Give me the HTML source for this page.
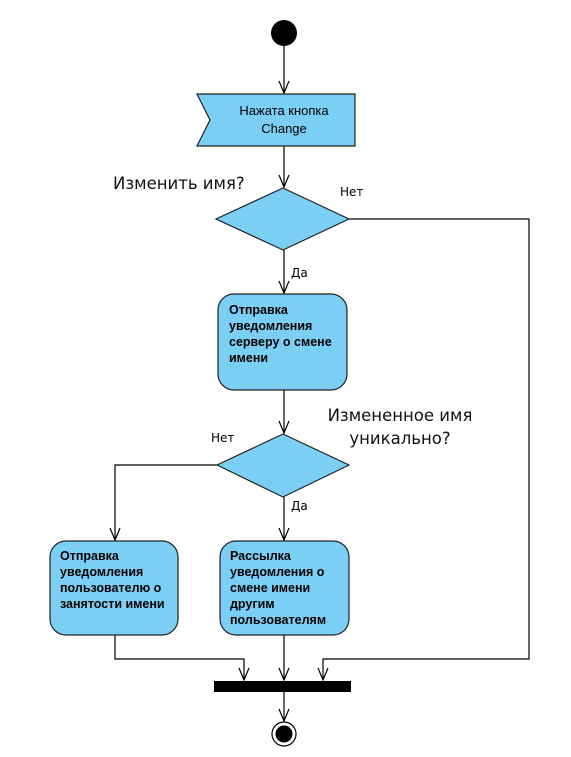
<!DOCTYPE html>
<html><head><meta charset="utf-8"><style>
html,body{margin:0;padding:0;background:#fff;}
svg{display:block;}
.b{font-family:"Liberation Sans",sans-serif;font-weight:bold;font-size:12.5px;fill:#000;}
.n{font-family:"DejaVu Sans","Liberation Sans",sans-serif;font-size:12px;fill:#000;}
.q{font-family:"DejaVu Sans","Liberation Sans",sans-serif;font-size:16.5px;fill:#111;}
</style></head><body>
<svg width="571" height="757" viewBox="0 0 571 757" xmlns="http://www.w3.org/2000/svg">
<defs><marker id="a" markerWidth="14" markerHeight="12" refX="13" refY="6" orient="auto" markerUnits="userSpaceOnUse" viewBox="0 0 14 12">
<path d="M1,1 L13,6 L1,11" fill="none" stroke="#000" stroke-width="1.2"/></marker></defs>
<g stroke="#000" stroke-width="1.2" fill="none">
<line x1="284" y1="45" x2="284" y2="93" marker-end="url(#a)"/>
<line x1="284" y1="146" x2="284" y2="187" marker-end="url(#a)"/>
<line x1="284" y1="250" x2="284" y2="293" marker-end="url(#a)"/>
<polyline points="349,219 529,219 529,659 323,659 323,680" marker-end="url(#a)"/>
<line x1="284" y1="390" x2="284" y2="433" marker-end="url(#a)"/>
<polyline points="218,465 115,465 115,540" marker-end="url(#a)"/>
<line x1="284" y1="497" x2="284" y2="540" marker-end="url(#a)"/>
<polyline points="115,635 115,659 244,659 244,680" marker-end="url(#a)"/>
<line x1="284" y1="635" x2="284" y2="680" marker-end="url(#a)"/>
<line x1="284" y1="692" x2="284" y2="721" marker-end="url(#a)"/>
</g>
<circle cx="284" cy="33" r="13" fill="#000"/>
<polygon points="197,94 355,94 355,146 197,146 210,120" fill="#7ccff4" stroke="#222" stroke-width="1.2"/>
<text x="284" y="115" text-anchor="middle" font-family="Liberation Sans,sans-serif" font-size="13">Нажата кнопка</text>
<text x="284" y="133" text-anchor="middle" font-family="Liberation Sans,sans-serif" font-size="13">Change</text>
<polygon points="283,188 349,219 283,250 216,219" fill="#7ccff4" stroke="#222" stroke-width="1.2"/>
<text class="q" x="113" y="189">Изменить имя?</text>
<text class="n" x="340" y="196">Нет</text>
<text class="n" x="291" y="277">Да</text>
<rect x="218" y="294" width="129" height="96" rx="16" fill="#7ccff4" stroke="#222" stroke-width="1.2"/>
<text class="b"><tspan x="229" y="314">Отправка</tspan><tspan x="229" y="330">уведомления</tspan><tspan x="229" y="346">серверу о смене</tspan><tspan x="229" y="362">имени</tspan></text>
<polygon points="283,434 349,465 283,497 217,465" fill="#7ccff4" stroke="#222" stroke-width="1.2"/>
<text class="q" x="400" y="421" text-anchor="middle">Измененное имя</text>
<text class="q" x="400" y="444" text-anchor="middle">уникально?</text>
<text class="n" x="211" y="442">Нет</text>
<text class="n" x="291" y="510">Да</text>
<rect x="50" y="541" width="128" height="94" rx="16" fill="#7ccff4" stroke="#222" stroke-width="1.2"/>
<text class="b"><tspan x="60" y="560">Отправка</tspan><tspan x="60" y="576">уведомления</tspan><tspan x="60" y="592">пользователю о</tspan><tspan x="60" y="608">занятости имени</tspan></text>
<rect x="220" y="541" width="129" height="94" rx="16" fill="#7ccff4" stroke="#222" stroke-width="1.2"/>
<text class="b"><tspan x="230" y="560">Рассылка</tspan><tspan x="230" y="576">уведомления о</tspan><tspan x="230" y="592">смене имени</tspan><tspan x="230" y="608">другим</tspan><tspan x="230" y="624">пользователям</tspan></text>
<rect x="214" y="681" width="137" height="11" fill="#000"/>
<circle cx="284" cy="734" r="12" fill="#fff" stroke="#000" stroke-width="1.2"/>
<circle cx="284" cy="734" r="8.5" fill="#000"/>
</svg>
</body></html>
